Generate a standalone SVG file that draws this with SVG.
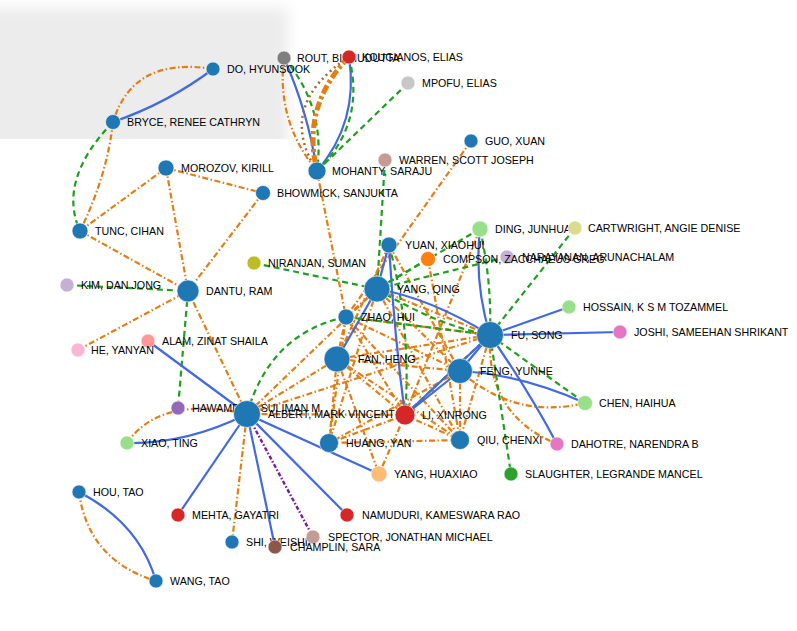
<svg xmlns="http://www.w3.org/2000/svg" width="797" height="631" viewBox="0 0 797 631">
<defs>
<filter id="blur" x="-20%" y="-20%" width="140%" height="140%"><feGaussianBlur stdDeviation="7"/></filter>
<clipPath id="clipTop"><rect x="0" y="0" width="797" height="139"/></clipPath>
<style>
.e{fill:none;stroke-width:2.2}
.b{stroke:#4169e1}
.o{stroke:#e47d12;stroke-dasharray:6 2.5 1.5 2.5}
.ot{stroke:#e47d12;stroke-width:5;stroke-dasharray:9 3 3 3}
.g{stroke:#1ea01e;stroke-dasharray:6 4}
.br{stroke:#a06a2a;stroke-width:2.5;stroke-dasharray:2 3.5}
.p{stroke:#7a16a8;stroke-width:2.4;stroke-dasharray:4 2 1.5 2}
circle{stroke:#ffffff;stroke-width:1;stroke-opacity:0.6}
text{font-family:"Liberation Sans",Arial,sans-serif;font-size:10.7px;fill:#000}
</style>
</defs>
<g clip-path="url(#clipTop)"><rect x="-30" y="8" width="318" height="220" fill="#ececec" filter="url(#blur)"/></g>
<g id="edges">
<path class="e b" d="M213,69 Q168,103 113,122"/>
<path class="e o" d="M213,69 Q133,56 113,122"/>
<path class="e g" d="M113,122 Q57,180 80,231"/>
<path class="e o" d="M113,122 Q107,176 80,231"/>
<path class="e o" d="M284,58 Q276,121 317,171"/>
<path class="e b" d="M284,58 Q308,112 317,171"/>
<path class="e g" d="M284,58 Q326,107 317,171"/>
<path class="e br" d="M349,57 Q275,106 317,171"/>
<path class="e ot" d="M349,57 Q301,106 317,171"/>
<path class="e b" d="M349,57 Q359,122 317,171"/>
<path class="e g" d="M349,57 Q366,124 317,171"/>
<path class="e g" d="M408,83 L317,171"/>
<path class="e o" d="M317,171 L346,317"/>
<path class="e o" d="M471,141 L346,317"/>
<path class="e g" d="M385,160 L377,289"/>
<path class="e o" d="M166,168 L80,231"/>
<path class="e o" d="M166,168 L263,193"/>
<path class="e o" d="M166,168 L188,291"/>
<path class="e o" d="M80,231 L188,291"/>
<path class="e o" d="M263,193 L188,291"/>
<path class="e g" d="M67,285 L188,291"/>
<path class="e o" d="M78,350 L188,291"/>
<path class="e g" d="M188,291 L178,408"/>
<path class="e o" d="M188,291 L247,414"/>
<path class="e g" d="M254,263 L377,289"/>
<path class="e b" d="M148,341 L247,414"/>
<path class="e b" d="M127,443 Q187,444 247,414"/>
<path class="e o" d="M127,443 Q160,395 247,414"/>
<path class="e g" d="M247,414 Q270,333 346,317"/>
<path class="e b" d="M247,414 L178,515"/>
<path class="e o" d="M247,414 L232,542"/>
<path class="e b" d="M247,414 L275,547"/>
<path class="e p" d="M247,414 L313,537"/>
<path class="e b" d="M247,414 L347,515"/>
<path class="e b" d="M247,414 L379,474"/>
<path class="e b" d="M79,492 Q139,523 156,581"/>
<path class="e o" d="M79,492 Q88,560 156,581"/>
<path class="e o" d="M480,229 L405,415"/>
<path class="e o" d="M428,259 L460,440"/>
<path class="e o" d="M389,245 L460,371"/>
<path class="e o" d="M389,245 L337,359"/>
<path class="e o" d="M377,289 L346,317"/>
<path class="e o" d="M377,289 L460,371"/>
<path class="e o" d="M377,289 L490,335"/>
<path class="e o" d="M377,289 L329,443"/>
<path class="e o" d="M377,289 L460,440"/>
<path class="e o" d="M377,289 L247,414"/>
<path class="e o" d="M346,317 L337,359"/>
<path class="e o" d="M346,317 L490,335"/>
<path class="e o" d="M346,317 L460,371"/>
<path class="e o" d="M346,317 L405,415"/>
<path class="e o" d="M346,317 L460,440"/>
<path class="e o" d="M346,317 L329,443"/>
<path class="e o" d="M337,359 L490,335"/>
<path class="e o" d="M337,359 L460,371"/>
<path class="e o" d="M337,359 L405,415"/>
<path class="e o" d="M337,359 L460,440"/>
<path class="e o" d="M337,359 L329,443"/>
<path class="e o" d="M337,359 L379,474"/>
<path class="e o" d="M337,359 L247,414"/>
<path class="e o" d="M460,371 L329,443"/>
<path class="e o" d="M460,371 L460,440"/>
<path class="e o" d="M490,335 L460,440"/>
<path class="e o" d="M405,415 L329,443"/>
<path class="e o" d="M405,415 L460,440"/>
<path class="e o" d="M405,415 L379,474"/>
<path class="e o" d="M405,415 L247,414"/>
<path class="e o" d="M329,443 L460,440"/>
<path class="e o" d="M247,414 L490,335"/>
<path class="e o" d="M490,335 Q486,415 557,444"/>
<path class="e o" d="M460,371 Q515,420 585,403"/>
<path class="e b" d="M389,245 L377,289"/>
<path class="e b" d="M377,289 L337,359"/>
<path class="e b" d="M389,245 Q394,332 405,415"/>
<path class="e g" d="M389,245 Q412,330 405,415"/>
<path class="e b" d="M377,289 Q430,298 490,335"/>
<path class="e g" d="M377,289 Q438,326 490,335"/>
<path class="e g" d="M480,229 L377,289"/>
<path class="e g" d="M428,259 L377,289"/>
<path class="e g" d="M507,257 L377,289"/>
<path class="e b" d="M480,229 Q474,283 490,335"/>
<path class="e g" d="M480,229 Q492,282 490,335"/>
<path class="e g" d="M575,228 L490,335"/>
<path class="e g" d="M346,317 L490,335"/>
<path class="e g" d="M405,415 L490,335"/>
<path class="e b" d="M490,335 L460,371"/>
<path class="e b" d="M490,335 L405,415"/>
<path class="e b" d="M460,371 L405,415"/>
<path class="e b" d="M490,335 L569,307"/>
<path class="e b" d="M490,335 L620,332"/>
<path class="e b" d="M490,335 Q527,388 557,444"/>
<path class="e b" d="M460,371 Q519,374 585,403"/>
<path class="e g" d="M490,335 L585,403"/>
<path class="e g" d="M490,335 L511,474"/>
</g>
<g id="nodes">
<g id="n-do"><circle cx="213" cy="69" r="7" fill="#1f77b4"/><text x="227" y="73">DO, HYUNSOOK</text></g>
<g id="n-bryce"><circle cx="113" cy="122" r="7.5" fill="#1f77b4"/><text x="127" y="126">BRYCE, RENEE CATHRYN</text></g>
<g id="n-rout"><circle cx="284" cy="58" r="7" fill="#7f7f7f"/><text x="297" y="62">ROUT, BIBHUDUTTA</text></g>
<g id="n-kougianos"><circle cx="349" cy="57" r="7" fill="#d62728"/><text x="362" y="61">KOUGIANOS, ELIAS</text></g>
<g id="n-mpofu"><circle cx="408" cy="83" r="7" fill="#c7c7c7"/><text x="422" y="87">MPOFU, ELIAS</text></g>
<g id="n-guo"><circle cx="471" cy="141" r="7" fill="#1f77b4"/><text x="485" y="145">GUO, XUAN</text></g>
<g id="n-warren"><circle cx="385" cy="160" r="7" fill="#c49c94"/><text x="399" y="164">WARREN, SCOTT JOSEPH</text></g>
<g id="n-mohanty"><circle cx="317" cy="171" r="9" fill="#1f77b4"/><text x="332" y="175">MOHANTY, SARAJU</text></g>
<g id="n-morozov"><circle cx="166" cy="168" r="8" fill="#1f77b4"/><text x="181" y="172">MOROZOV, KIRILL</text></g>
<g id="n-bhowmick"><circle cx="263" cy="193" r="7.5" fill="#1f77b4"/><text x="277" y="197">BHOWMICK, SANJUKTA</text></g>
<g id="n-tunc"><circle cx="80" cy="231" r="8" fill="#1f77b4"/><text x="95" y="235">TUNC, CIHAN</text></g>
<g id="n-ding"><circle cx="480" cy="229" r="8" fill="#98df8a"/><text x="495" y="233">DING, JUNHUA</text></g>
<g id="n-cartwright"><circle cx="575" cy="228" r="7" fill="#dbdb8d"/><text x="588" y="232">CARTWRIGHT, ANGIE DENISE</text></g>
<g id="n-yuan"><circle cx="389" cy="245" r="8" fill="#1f77b4"/><text x="405" y="249">YUAN, XIAOHUI</text></g>
<g id="n-narayanan"><circle cx="507" cy="257" r="7" fill="#c5b0d5"/><text x="522" y="261">NARAYANAN, ARUNACHALAM</text></g>
<g id="n-compson"><circle cx="428" cy="259" r="7.5" fill="#ff7f0e"/><text x="443" y="263">COMPSON, ZACCHAEUS GREG</text></g>
<g id="n-niranjan"><circle cx="254" cy="263" r="7" fill="#bcbd22"/><text x="268" y="267">NIRANJAN, SUMAN</text></g>
<g id="n-kim"><circle cx="67" cy="285" r="7" fill="#c5b0d5"/><text x="81" y="289">KIM, DAN JONG</text></g>
<g id="n-dantu"><circle cx="188" cy="291" r="11" fill="#1f77b4"/><text x="206" y="295">DANTU, RAM</text></g>
<g id="n-yangqing"><circle cx="377" cy="289" r="13" fill="#1f77b4"/><text x="397" y="293">YANG, QING</text></g>
<g id="n-zhao"><circle cx="346" cy="317" r="8" fill="#1f77b4"/><text x="361" y="321">ZHAO, HUI</text></g>
<g id="n-hossain"><circle cx="569" cy="307" r="7" fill="#98df8a"/><text x="583" y="311">HOSSAIN, K S M TOZAMMEL</text></g>
<g id="n-fu"><circle cx="490" cy="335" r="13.5" fill="#1f77b4"/><text x="511" y="339">FU, SONG</text></g>
<g id="n-joshi"><circle cx="620" cy="332" r="7" fill="#e377c2"/><text x="634" y="336">JOSHI, SAMEEHAN SHRIKANT</text></g>
<g id="n-alam"><circle cx="148" cy="341" r="7" fill="#ff9896"/><text x="162" y="345">ALAM, ZINAT SHAILA</text></g>
<g id="n-he"><circle cx="78" cy="350" r="7" fill="#f7b6d2"/><text x="91" y="354">HE, YANYAN</text></g>
<g id="n-fan"><circle cx="337" cy="359" r="13" fill="#1f77b4"/><text x="358" y="363">FAN, HENG</text></g>
<g id="n-feng"><circle cx="460" cy="371" r="12.5" fill="#1f77b4"/><text x="480" y="375">FENG, YUNHE</text></g>
<g id="n-chen"><circle cx="585" cy="403" r="7.5" fill="#98df8a"/><text x="599" y="407">CHEN, HAIHUA</text></g>
<g id="n-hawamdeh"><circle cx="178" cy="408" r="7" fill="#9467bd"/><text x="192" y="412">HAWAMDEH, SULIMAN M</text></g>
<g id="n-albert"><circle cx="247" cy="414" r="13.5" fill="#1f77b4"/><text x="268" y="418">ALBERT, MARK VINCENT</text></g>
<g id="n-li"><circle cx="405" cy="415" r="10" fill="#d62728"/><text x="422" y="419">LI, XINRONG</text></g>
<g id="n-xiao"><circle cx="127" cy="443" r="7" fill="#98df8a"/><text x="141" y="447">XIAO, TING</text></g>
<g id="n-huang"><circle cx="329" cy="443" r="9.5" fill="#1f77b4"/><text x="346" y="447">HUANG, YAN</text></g>
<g id="n-qiu"><circle cx="460" cy="440" r="9.5" fill="#1f77b4"/><text x="477" y="444">QIU, CHENXI</text></g>
<g id="n-dahotre"><circle cx="557" cy="444" r="7" fill="#e377c2"/><text x="571" y="448">DAHOTRE, NARENDRA B</text></g>
<g id="n-yanghuaxiao"><circle cx="379" cy="474" r="8" fill="#ffbb78"/><text x="394" y="478">YANG, HUAXIAO</text></g>
<g id="n-slaughter"><circle cx="511" cy="474" r="7" fill="#2ca02c"/><text x="525" y="478">SLAUGHTER, LEGRANDE MANCEL</text></g>
<g id="n-hou"><circle cx="79" cy="492" r="7" fill="#1f77b4"/><text x="93" y="496">HOU, TAO</text></g>
<g id="n-mehta"><circle cx="178" cy="515" r="7" fill="#d62728"/><text x="192" y="519">MEHTA, GAYATRI</text></g>
<g id="n-namuduri"><circle cx="347" cy="515" r="7" fill="#d62728"/><text x="362" y="519">NAMUDURI, KAMESWARA RAO</text></g>
<g id="n-shi"><circle cx="232" cy="542" r="7" fill="#1f77b4"/><text x="246" y="546">SHI, WEISHI</text></g>
<g id="n-spector"><circle cx="313" cy="537" r="7" fill="#c49c94"/><text x="328" y="541">SPECTOR, JONATHAN MICHAEL</text></g>
<g id="n-champlin"><circle cx="275" cy="547" r="7" fill="#8c564b"/><text x="290" y="551">CHAMPLIN, SARA</text></g>
<g id="n-wang"><circle cx="156" cy="581" r="7" fill="#1f77b4"/><text x="170" y="585">WANG, TAO</text></g>
</g>
</svg>
